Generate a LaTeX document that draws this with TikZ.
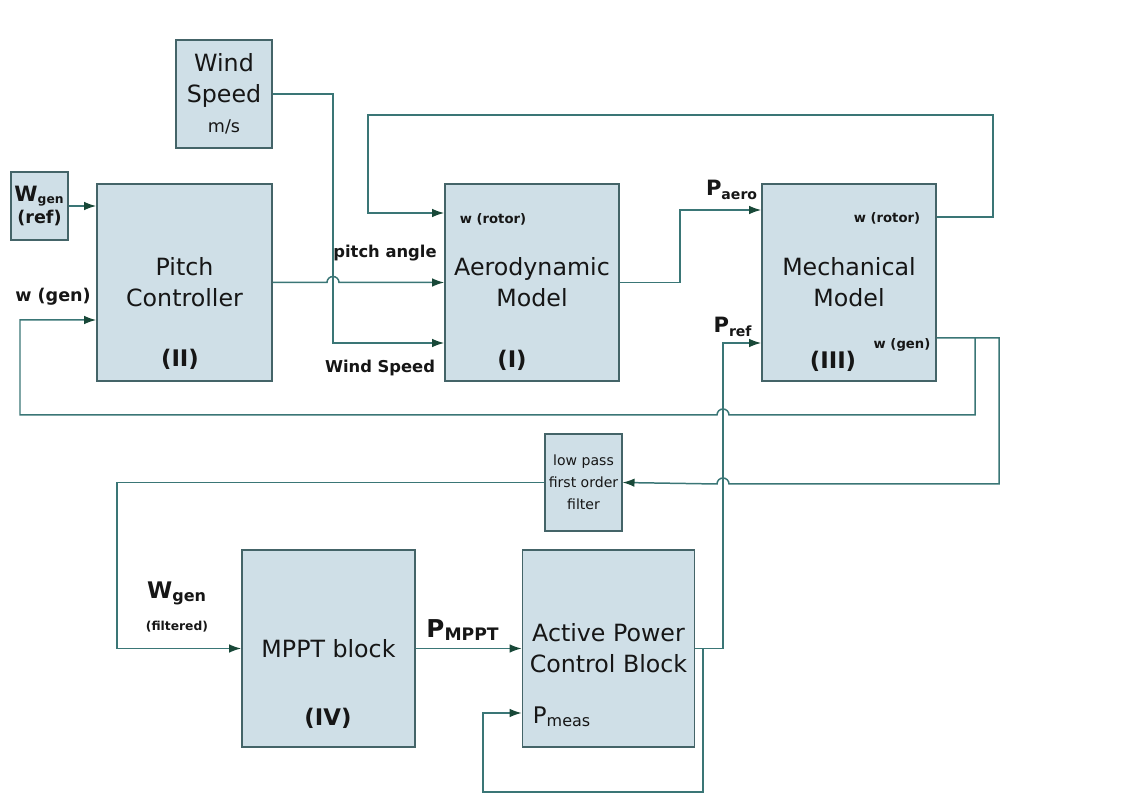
\documentclass[tikz,border=0pt]{standalone}
\usepackage{fontspec}
\setmainfont{DejaVu Sans}
\usetikzlibrary{arrows.meta, positioning}
\definecolor{blkfill}{RGB}{207,223,231}
\definecolor{blkborder}{RGB}{68,100,104}
\definecolor{wirecol}{RGB}{58,118,118}
\definecolor{tipcol}{RGB}{24,72,56}
\definecolor{txt}{RGB}{22,22,22}
\tikzset{
  blk/.style={rectangle, draw=blkborder, line width=0.9pt, fill=blkfill, align=center,
              inner sep=2pt, text=txt, font=\fontsize{13.5}{17.5}\selectfont},
  num/.style={font=\bfseries\fontsize{13}{15}\selectfont, text=txt, inner sep=0pt},
  lbl/.style={font=\bfseries\fontsize{9.3}{11}\selectfont, text=txt, inner sep=0pt},
  port/.style={font=\bfseries\fontsize{7.5}{9}\selectfont, text=txt, inner sep=0pt},
  sig/.style={font=\bfseries\fontsize{12}{14}\selectfont, text=txt, inner sep=0pt},
  ln/.style={draw=wirecol, line width=0.85pt},
  arr/.style={ln, -{Latex[length=2.4mm, width=1.7mm, color=tipcol]}}
}
\newcommand{\hopr}{arc[start angle=180, end angle=0, radius=0.12cm]}
\newcommand{\hopl}{arc[start angle=0, end angle=180, radius=0.12cm]}

\begin{document}
\begin{tikzpicture}[x=0.02cm, y=-0.02cm]
\useasboundingbox (0,0) rectangle (1137,803);
\node[blk, minimum width=1.92cm, minimum height=2.16cm] (wind) at (224,94) {Wind\\Speed\\{\fontsize{10}{12}\selectfont m/s}};
\node[blk, minimum width=1.14cm, minimum height=1.36cm, font=\bfseries\fontsize{10}{13}\selectfont] (wref) at (39.5,206) {{\fontsize{12}{13}\selectfont W}\textsubscript{gen}\\(ref)};
\node[blk, minimum width=3.5cm, minimum height=3.94cm] (pitch) at (184.5,282.5) {Pitch\\Controller};
\node[blk, minimum width=3.48cm, minimum height=3.94cm] (aero) at (532,282.5) {Aerodynamic\\Model};
\node[blk, minimum width=3.48cm, minimum height=3.94cm] (mech) at (849,282.5) {Mechanical\\Model};
\node[blk, minimum width=1.42cm, minimum height=1.94cm, font=\fontsize{8}{12.5}\selectfont] (lpf) at (583.5,482.5) {low pass\\first order\\filter};
\node[blk, minimum width=3.46cm, minimum height=3.94cm] (mppt) at (328.5,648.5) {MPPT block};
\node[blk, minimum width=3.44cm, minimum height=3.94cm] (apc) at (608.5,648.5) {Active Power\\Control Block};

\node[num] (n2) at (180,359) {(II)};
\node[num] (n1) at (512,360) {(I)};
\node[num] (n3) at (833,361) {(III)};
\node[num] (n4) at (328,718) {(IV)};

\node[lbl, font=\bfseries\fontsize{10}{12}\selectfont] (wg) at (53,297) {w (gen)};
\node[lbl] (pa) at (385,253) {pitch angle};
\node[lbl] (ws) at (380,368) {Wind Speed};
\node[port] (ar) at (493,219) {w (rotor)};
\node[port] (mr) at (887,218) {w (rotor)};
\node[port] (mg) at (902,345) {w (gen)};
\node[sig] (paero) at (732,190) {P\textsubscript{aero}};
\node[sig] (pref) at (733,327) {P\textsubscript{ref}};
\node[sig, font=\bfseries\fontsize{13}{15}\selectfont] (wfil) at (177,593) {W\textsubscript{gen}};
\node[port, font=\bfseries\fontsize{7}{9}\selectfont] (fil) at (177,627) {(filtered)};
\node[sig, font=\bfseries\fontsize{14}{16}\selectfont] (pmppt) at (463,630) {P\textsubscript{MPPT}};
\node[sig, font=\fontsize{13}{15}\selectfont] (pmeas) at (562,717) {P\textsubscript{meas}};

\coordinate (gs) at (975,338);
\coordinate (ps) at (703,648.5);
\draw[arr] (wref.east) -- (wref.east -| pitch.west);
\draw[arr] (wind.east) -| (333,343) -- (aero.west |- 0,343);
\draw[arr] (pitch.east) -- (327,282.5) \hopr -- (aero.west);
\draw[arr] (mech.east |- 0,217) -- (993,217) -- (993,115) -- (368,115) -- (368,213) -- (aero.west |- 0,213);
\draw[arr] (aero.east) -- (680,282.5) -- (680,210) -- (mech.west |- 0,210);
\draw[arr] (mech.east |- gs) -- (999,338) -- (999,484) -- (729,484) \hopl -- (lpf.east);
\draw[arr] (gs) -- (975,415) -- (729,415) \hopl -- (20,415) -- (20,320) -- (pitch.west |- 0,320);
\draw[arr] (lpf.west) -| (117,648.5) -- (mppt.west);
\draw[arr] (mppt.east) -- (apc.west);
\draw[arr] (apc.east) -| (723,343) -- (mech.west |- 0,343);
\draw[arr] (ps) -- (703,792) -- (483,792) -- (483,713) -- (apc.west |- 0,713);
\end{tikzpicture}
\end{document}
